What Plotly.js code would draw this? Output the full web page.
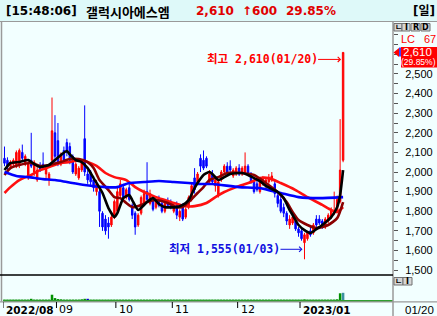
<!DOCTYPE html>
<html><head><meta charset="utf-8">
<script src="https://cdn.plot.ly/plotly-3.0.1.min.js"></script>
<style>html,body{margin:0;padding:0;background:#f2ffff;}#chart{width:437px;height:316px;}</style>
</head><body><div id="chart"></div>
<script>
// ---------------- data ----------------
const stockName = '갤럭시아에스엠';
const timeStamp = '15:48:06';
const dates = ['2022-08-05','2022-08-08','2022-08-09','2022-08-10','2022-08-11','2022-08-12','2022-08-16','2022-08-17','2022-08-18','2022-08-19','2022-08-22','2022-08-23','2022-08-24','2022-08-25','2022-08-26','2022-08-29','2022-08-30','2022-08-31',
'2022-09-01','2022-09-02','2022-09-05','2022-09-06','2022-09-07','2022-09-08','2022-09-13','2022-09-14','2022-09-15','2022-09-16','2022-09-19','2022-09-20','2022-09-21','2022-09-22','2022-09-23','2022-09-26','2022-09-27','2022-09-28','2022-09-29','2022-09-30',
'2022-10-04','2022-10-05','2022-10-06','2022-10-07','2022-10-11','2022-10-12','2022-10-13','2022-10-14','2022-10-17','2022-10-18','2022-10-19','2022-10-20','2022-10-21','2022-10-24','2022-10-25','2022-10-26','2022-10-27','2022-10-28','2022-10-31',
'2022-11-01','2022-11-02','2022-11-03','2022-11-04','2022-11-07','2022-11-08','2022-11-09','2022-11-10','2022-11-11','2022-11-14','2022-11-15','2022-11-16','2022-11-17','2022-11-18','2022-11-21','2022-11-22','2022-11-23','2022-11-24','2022-11-25','2022-11-28','2022-11-29','2022-11-30',
'2022-12-01','2022-12-02','2022-12-05','2022-12-06','2022-12-07','2022-12-08','2022-12-09','2022-12-12','2022-12-13','2022-12-14','2022-12-15','2022-12-16','2022-12-19','2022-12-20','2022-12-21','2022-12-22','2022-12-23','2022-12-26','2022-12-27','2022-12-28','2022-12-29',
'2023-01-02','2023-01-03','2023-01-04','2023-01-05','2023-01-06','2023-01-09','2023-01-10','2023-01-11','2023-01-12','2023-01-13','2023-01-16','2023-01-17','2023-01-18','2023-01-19','2023-01-20'];

const opens = [2070,2060,2030,2040,2030,2040,2100,2040,1970,2060,2000,1960,2030,2040,1990,1960,2060,2200,
2160,2040,2110,2150,2130,2080,1990,1970,2010,2170,1990,2000,1960,1900,1900,1790,1760,1740,1730,1770,
1800,1880,1920,1870,1920,1830,1790,1730,1790,1840,1900,1840,1850,1820,1850,1840,1800,1850,1840,
1800,1830,1770,1820,1770,1820,1860,1970,1950,2070,2060,2070,1950,1990,1930,1880,1960,2000,2030,2030,1980,1990,
2020,1990,2000,2030,1990,1950,1940,1900,1940,1940,1950,1960,1940,1880,1860,1820,1790,1730,1740,1750,1710,
1700,1640,1660,1700,1690,1760,1760,1750,1720,1750,1770,1790,1800,1850,2060];
const highs = [2130,2075,2060,2070,2110,2120,2140,2090,2060,2200,2060,2030,2050,2100,2030,2000,2380,2290,
2250,2100,2130,2170,2150,2090,2050,2030,2060,2340,2010,2010,1980,1960,1910,1800,1780,1770,1790,1860,
1920,1960,1940,1920,1940,1840,1800,1790,1880,1910,2050,1910,1870,1870,1880,1850,1850,1870,1860,
1840,1850,1810,1840,1820,1880,1940,2020,2000,2090,2110,2080,2010,2010,1980,1960,2010,2040,2050,2060,2020,2030,
2040,2030,2100,2040,2000,1960,1960,1960,1980,1970,1990,2000,1960,1890,1880,1840,1800,1780,1790,1760,1720,
1710,1690,1700,1720,1740,1780,1780,1760,1770,1790,1820,1900,1880,2270,2610];
const lows = [2030,2010,2020,2030,2020,2020,2060,2030,1960,2020,1980,1950,2000,2010,1960,1930,2050,2040,
2030,2030,2050,2080,2040,1990,1980,1960,2000,1980,1940,1930,1900,1880,1720,1700,1680,1660,1720,1760,
1790,1870,1860,1860,1850,1760,1680,1720,1780,1830,1850,1830,1800,1810,1820,1790,1790,1820,1810,
1790,1760,1750,1750,1760,1810,1850,1890,1940,2000,2010,2020,1940,1940,1900,1870,1950,1990,1980,2000,1970,1980,
1980,1980,1990,1980,1940,1890,1900,1890,1930,1920,1940,1950,1870,1820,1790,1770,1730,1710,1730,1700,1670,
1650,1555,1650,1670,1680,1720,1730,1710,1710,1740,1760,1780,1790,1840,2050];
const closes = [2045,2030,2050,2060,2100,2110,2070,2080,2040,2030,2050,2010,2010,2020,2020,1990,2210,2080,
2040,2090,2060,2100,2060,2000,2040,2020,2050,2000,1960,1950,1920,1940,1800,1720,1700,1720,1770,1850,
1900,1940,1870,1910,1860,1780,1720,1780,1870,1890,1860,1890,1810,1860,1830,1800,1840,1830,1820,
1830,1780,1800,1760,1810,1870,1930,1910,1990,2030,2020,2030,1990,1950,1960,1950,2000,2030,1990,2010,2010,2020,
1990,2020,2030,1990,1950,1900,1910,1950,1970,1960,1970,1980,1890,1840,1800,1790,1750,1760,1770,1710,1690,
1660,1680,1690,1680,1730,1730,1740,1720,1760,1780,1810,1800,1860,2010,2610];
const volumes = [2,2,2,2,2,2,2,2,2,5,2,2,2,2,2,2,22,8,
4,3,2,2,2,2,2,2,3,5,5,2,2,2,2,2,2,2,2,2,
2,2,2,2,2,2,2,2,2,2,2,2,2,2,2,2,2,2,2,
2,2,2,2,2,2,2,2,2,2,2,2,2,2,2,2,2,2,2,2,2,2,
2,2,2,2,2,2,2,2,2,2,2,2,2,2,2,2,2,2,2,2,2,
2,3,2,2,2,2,2,2,2,2,2,2,3,28,30];

const ma5Dates = ['2022-08-05','2022-08-09','2022-08-12','2022-08-18','2022-08-22','2022-08-24','2022-08-29','2022-08-31','2022-09-02','2022-09-06','2022-09-07','2022-09-13','2022-09-15','2022-09-19','2022-09-21','2022-09-26','2022-09-28','2022-09-30','2022-10-04','2022-10-06','2022-10-11','2022-10-12','2022-10-14','2022-10-18','2022-10-19','2022-10-21','2022-10-25','2022-10-27','2022-11-02','2022-11-04','2022-11-08','2022-11-10','2022-11-11','2022-11-15','2022-11-17','2022-11-18','2022-11-22','2022-11-24','2022-11-28','2022-12-02','2022-12-06','2022-12-08','2022-12-12','2022-12-14','2022-12-16','2022-12-20','2022-12-22','2022-12-26','2022-12-27','2022-12-29','2023-01-03','2023-01-05','2023-01-09','2023-01-11','2023-01-13','2023-01-16','2023-01-18','2023-01-19','2023-01-20'];
const ma5Values = [2010,2046,2051,2061,2041,2026,2036,2061,2087,2107,2090,2061,2051,2020,1969,1893,1816,1770,1790,1867,1883,1857,1806,1832,1847,1867,1837,1821,1821,1832,1857,1918,1944,1985,2000,1990,1959,1974,1990,1995,1985,1969,1954,1929,1913,1898,1867,1806,1781,1730,1704,1689,1709,1730,1755,1770,1821,1883,2010];
const ma20Dates = ['2022-08-05','2022-08-09','2022-08-12','2022-08-19','2022-08-24','2022-08-29','2022-09-02','2022-09-07','2022-09-14','2022-09-19','2022-09-21','2022-09-23','2022-09-28','2022-09-30','2022-10-05','2022-10-07','2022-10-12','2022-10-17','2022-10-19','2022-10-24','2022-10-28','2022-11-02','2022-11-04','2022-11-08','2022-11-11','2022-11-15','2022-11-17','2022-11-22','2022-11-25','2022-12-02','2022-12-08','2022-12-14','2022-12-20','2022-12-23','2022-12-27','2022-12-29','2023-01-04','2023-01-09','2023-01-13','2023-01-18','2023-01-20'];
const ma20Values = [1985,2020,2036,2046,2031,2036,2051,2066,2066,2051,2020,1959,1908,1872,1867,1842,1821,1832,1847,1857,1842,1821,1821,1847,1893,1923,1959,1974,1995,1995,1985,1944,1898,1847,1796,1755,1730,1714,1730,1765,1847];
const ma60Dates = ['2022-08-05','2022-08-09','2022-08-12','2022-08-19','2022-08-24','2022-08-29','2022-09-02','2022-09-07','2022-09-14','2022-09-19','2022-09-22','2022-09-27','2022-09-30','2022-10-07','2022-10-13','2022-10-18','2022-10-24','2022-10-27','2022-11-01','2022-11-07','2022-11-10','2022-11-16','2022-11-21','2022-11-24','2022-11-30','2022-12-07','2022-12-12','2022-12-15','2022-12-21','2022-12-28','2023-01-04','2023-01-11','2023-01-16','2023-01-18','2023-01-20'];
const ma60Values = [1893,1923,1959,1985,2010,2026,2046,2051,2061,2051,2031,1995,1974,1959,1923,1898,1872,1857,1842,1826,1826,1842,1872,1898,1923,1949,1969,1969,1944,1908,1872,1832,1806,1796,1821];
const ma120Dates = ['2022-08-05','2022-08-11','2022-08-18','2022-08-25','2022-08-31','2022-09-06','2022-09-16','2022-09-27','2022-10-04','2022-10-11','2022-10-18','2022-10-25','2022-11-01','2022-11-08','2022-11-14','2022-11-18','2022-12-01','2022-12-12','2022-12-21','2022-12-29','2023-01-10','2023-01-20'];
const ma120Values = [2000,1980,1974,1964,1959,1949,1934,1923,1923,1944,1949,1954,1949,1944,1939,1939,1923,1918,1893,1872,1867,1872];

// y tick labels (the 2,600 level sits behind the current-price box in the reference)
const yTicks = [1500,1600,1700,1800,1900,2000,2100,2200,2300,2400,2500];
const monthStarts = ['2022-08-05','2022-09-01','2022-10-04','2022-11-01','2022-12-01','2023-01-02'];
const monthLabels = ['2022/08','09','10','11','12','2023/01'];
const monthBold = [true,false,false,false,false,true];

// ---------------- derived ----------------
const fmt = v => v.toLocaleString('en-US');
const md = d => d.slice(5).replace('-', '/');
const N = dates.length, last = N - 1;
const lastClose = closes[last], prevClose = closes[last - 1];
const chg = lastClose - prevClose;
const pct = chg / prevClose * 100;
let hiIdx = 0, loIdx = 0;
highs.forEach((v, i) => { if (v > highs[hiIdx]) hiIdx = i; });
lows.forEach((v, i) => { if (v < lows[loIdx]) loIdx = i; });

// ---------------- geometry helpers (page px -> paper) ----------------
const W = 437, H = 316, M = {l: 3, r: 44, t: 23, b: 16};
const PW = W - M.l - M.r, PH = H - M.t - M.b;
const px = x => (x - M.l) / PW;
const py = y => (H - M.b - y) / PH;
const BG = '#f2ffff';
const yRange = [1480, 2760];
const priceDomain = [py(274), 1];
const pricePx = v => M.t + (yRange[1] - v) / (yRange[1] - yRange[0]) * (priceDomain[1] - priceDomain[0]) * PH;

const RED = '#ff0000', BLUE = '#0000ff';
const monoKR = 'DejaVu Sans Mono, Noto Sans CJK KR, monospace';
const sansKR = 'DejaVu Sans, Noto Sans CJK KR, sans-serif';
const LIB = 'Liberation Sans, Arial, sans-serif';

// ---------------- traces ----------------
const traces = [
  {type: 'candlestick', x: dates, open: opens, high: highs, low: lows, close: closes,
   xaxis: 'x', yaxis: 'y', whiskerwidth: 0, hoverinfo: 'skip',
   increasing: {line: {color: RED, width: 1}, fillcolor: RED},
   decreasing: {line: {color: BLUE, width: 1}, fillcolor: BLUE}},
  {type: 'scatter', mode: 'lines', x: ma60Dates, y: ma60Values, line: {color: '#ff1010', width: 2.6, shape: 'spline', smoothing: 0.6}, hoverinfo: 'skip'},
  {type: 'scatter', mode: 'lines', x: ma20Dates, y: ma20Values, line: {color: '#8b0000', width: 2.6, shape: 'spline', smoothing: 0.6}, hoverinfo: 'skip'},
  {type: 'scatter', mode: 'lines', x: ma120Dates, y: ma120Values, line: {color: '#0000ff', width: 2.6, shape: 'spline', smoothing: 0.6}, hoverinfo: 'skip'},
  {type: 'scatter', mode: 'lines', x: ma5Dates, y: ma5Values, line: {color: '#000000', width: 2.6, shape: 'spline', smoothing: 0.5}, hoverinfo: 'skip'},
  {type: 'bar', x: dates, y: volumes, xaxis: 'x', yaxis: 'y2', width: 0.85, hoverinfo: 'skip',
   marker: {color: volumes.map((v, i) => i === last ? '#3a8fa0' : (i === 28 ? '#0000cc' : '#009000')), line: {width: 0}}}
];

// ---------------- shapes ----------------
const gray = '#9a9a9a';
const shapes = [
  {type: 'rect', xref: 'paper', yref: 'paper', x0: px(0), x1: px(W), y0: py(21.5), y1: py(0), fillcolor: '#def9f9', line: {width: 0}, layer: 'below'},
  {type: 'line', xref: 'paper', yref: 'paper', x0: px(0), x1: px(W), y0: py(21.5), y1: py(21.5), line: {color: gray, width: 1}},
  {type: 'line', xref: 'paper', yref: 'paper', x0: px(1.5), x1: px(1.5), y0: py(21.5), y1: py(301.5), line: {color: gray, width: 1.5}},
  {type: 'line', xref: 'paper', yref: 'paper', x0: px(393), x1: px(393), y0: py(21.5), y1: py(H), line: {color: gray, width: 1.5}},
  {type: 'line', xref: 'paper', yref: 'paper', x0: px(0), x1: px(393), y0: py(275), y1: py(275), line: {color: '#000', width: 1.5}},
  {type: 'line', xref: 'paper', yref: 'paper', x0: px(0), x1: px(W), y0: py(301.8), y1: py(301.8), line: {color: gray, width: 1.2}}
];
monthStarts.forEach(d => {
  const xi = dates.indexOf(d) - 0.5;
  shapes.push({type: 'line', xref: 'x', yref: 'paper', x0: xi, x1: xi, y0: py(302), y1: py(308), line: {color: '#000', width: 1}});
});
// small panel buttons
const btnTop = [['ㄴ', 394, 402], ['I', 402, 410], ['R', 411, 420], ['D', 421, 430]];
const btnVol = [['ㄴ', 394, 403], ['I', 403, 412]];
const annotations = [];
function addButtons(list, yTop, yBot) {
  list.forEach(([t, a, b]) => {
    shapes.push({type: 'rect', xref: 'paper', yref: 'paper', x0: px(a), x1: px(b), y0: py(yBot), y1: py(yTop), fillcolor: '#d6d6d6', line: {color: '#707070', width: 1}});
    annotations.push({xref: 'paper', yref: 'paper', x: px((a + b) / 2), y: py((yTop + yBot) / 2), text: '<b>' + t + '</b>', showarrow: false, font: {family: sansKR, size: 8, color: '#000'}, xanchor: 'center', yanchor: 'middle', borderpad: 0});
  });
}
addButtons(btnTop, 23.5, 31);
addButtons(btnVol, 277.5, 285);

// current price pointer + box
const cp = pricePx(lastClose);
shapes.push({type: 'path', xref: 'paper', yref: 'paper', path: `M ${px(393.5)} ${py(cp)} L ${px(399)} ${py(cp - 4.5)} L ${px(399)} ${py(cp + 4.5)} Z`, fillcolor: RED, line: {width: 0}});
shapes.push({type: 'rect', xref: 'paper', yref: 'paper', x0: px(401), x1: px(W + 2), y0: py(cp + 15), y1: py(cp - 5.5), fillcolor: RED, line: {width: 0}});
shapes.push({type: 'line', xref: 'paper', yref: 'paper', x0: px(400), x1: px(400), y0: py(cp - 5), y1: py(cp + 4), line: {color: BLUE, width: 1.5}});

// ---------------- annotations ----------------
const hdrY = py(11);
const hdr = (text, x, color, anchor, fam, size) => annotations.push({xref: 'paper', yref: 'paper', x: px(x), y: hdrY, text: '<b>' + text + '</b>', showarrow: false, xanchor: anchor || 'left', yanchor: 'middle', borderpad: 0, font: {family: fam || sansKR, size: size || 12, color: color}});
hdr('[' + timeStamp + ']', 5, '#000');
hdr(stockName, 85, '#000', 'left', 'Noto Sans CJK KR, sans-serif', 13);
hdr(fmt(lastClose), 195, '#e00000');
hdr('↑' + fmt(chg), 241, '#e00000');
hdr(pct.toFixed(2) + '%', 285, '#e00000');
hdr('[일]', 436, '#000', 'right');

// month labels
monthStarts.forEach((d, k) => {
  annotations.push({xref: 'x', yref: 'paper', x: dates.indexOf(d) - 0.5, xshift: 2, y: py(309.5), xanchor: 'left', yanchor: 'middle', showarrow: false, borderpad: 0,
    text: monthBold[k] ? '<b>' + monthLabels[k] + '</b>' : monthLabels[k],
    font: {family: 'DejaVu Sans, sans-serif', size: monthBold[k] ? 10.5 : 11, color: '#000'}});
});
annotations.push({xref: 'paper', yref: 'paper', x: px(404), y: py(309.5), xanchor: 'left', yanchor: 'middle', showarrow: false, borderpad: 0, text: md(dates[last]), font: {family: LIB, size: 11.5, color: '#000'}});

// high / low markers
annotations.push({xref: 'x', yref: 'y', x: dates[hiIdx], y: highs[hiIdx], yshift: -7, ax: -81, ay: 0,
  text: '<b>최고 ' + fmt(highs[hiIdx]) + '(' + md(dates[hiIdx]) + ')</b>', showarrow: true, arrowhead: 4, arrowsize: 1, arrowwidth: 1, arrowcolor: RED, standoff: 2,
  font: {family: monoKR, size: 11.5, color: RED}, borderpad: 0});
annotations.push({xref: 'x', yref: 'y', x: dates[loIdx], y: lows[loIdx], yshift: 10, ax: -80, ay: 0,
  text: '<b>최저 ' + fmt(lows[loIdx]) + '(' + md(dates[loIdx]) + ')</b>', showarrow: true, arrowhead: 4, arrowsize: 1, arrowwidth: 1, arrowcolor: '#1010e0', standoff: 2,
  font: {family: monoKR, size: 11.5, color: '#1010e0'}, borderpad: 0});

// right side labels
annotations.push({xref: 'paper', yref: 'paper', x: px(400), y: py(38.5), xanchor: 'left', yanchor: 'middle', showarrow: false, borderpad: 0, text: 'LC', font: {family: LIB, size: 11, color: RED}});
annotations.push({xref: 'paper', yref: 'paper', x: px(436.5), y: py(38.5), xanchor: 'right', yanchor: 'middle', showarrow: false, borderpad: 0, text: '67', font: {family: LIB, size: 11, color: RED}});
annotations.push({xref: 'paper', yref: 'paper', x: px(402.5), y: py(cp), xanchor: 'left', yanchor: 'middle', showarrow: false, borderpad: 0,
  text: fmt(lastClose), font: {family: LIB, size: 11.5, color: '#fff'}});
annotations.push({xref: 'paper', yref: 'paper', x: px(436.5), y: py(cp + 10), xanchor: 'right', yanchor: 'middle', showarrow: false, borderpad: 0,
  text: '(' + pct.toFixed(2) + '%)', font: {family: LIB, size: 8.5, color: '#fff'}});

// ---------------- layout ----------------
const layout = {
  width: W, height: H,
  margin: {l: M.l, r: M.r, t: M.t, b: M.b, pad: 0},
  paper_bgcolor: BG, plot_bgcolor: BG,
  showlegend: false, dragmode: false, hovermode: false,
  xaxis: {type: 'category', categoryorder: 'array', categoryarray: dates, range: [-0.5, 130.8], anchor: 'y2',
    showgrid: false, zeroline: false, showticklabels: false, ticks: '', showline: true, linecolor: '#2e9e2e', linewidth: 1.5,
    rangeslider: {visible: false}, fixedrange: true},
  yaxis: {domain: priceDomain, range: yRange, side: 'right', anchor: 'x', tickvals: yTicks, ticktext: yTicks.map(fmt),
    ticks: 'outside', ticklen: 4, tickwidth: 1, tickcolor: '#555', ticklabelstandoff: 5,
    tickfont: {family: LIB, size: 11, color: '#000'},
    minor: {tickmode: 'linear', tick0: 1500, dtick: 50, ticks: 'outside', ticklen: 4, tickwidth: 1, tickcolor: '#555'},
    showgrid: false, zeroline: false, showline: false, fixedrange: true},
  yaxis2: {domain: [0, py(276)], range: [0, 100], anchor: 'x', showgrid: false, zeroline: false, showticklabels: false, ticks: '', fixedrange: true},
  shapes: shapes,
  annotations: annotations
};

Plotly.newPlot('chart', traces, layout, {displayModeBar: false, staticPlot: true});
</script>
</body></html>
